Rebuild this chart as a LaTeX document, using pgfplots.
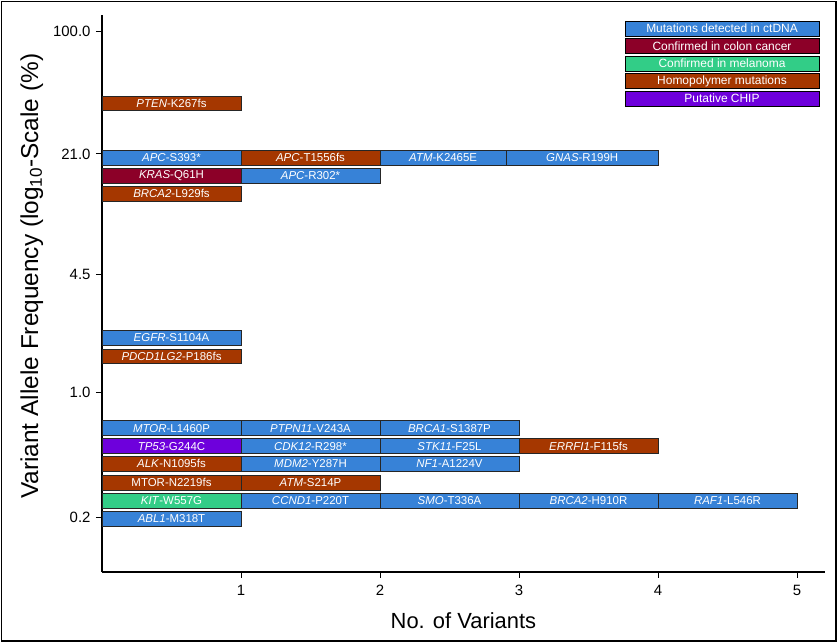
\documentclass[border=0pt]{standalone}
\usepackage{fontspec}
\setmainfont{Liberation Sans}
\usepackage{pgfplots}
\pgfplotsset{compat=1.18}
\definecolor{cblue}{RGB}{55,130,215}
\definecolor{cred}{RGB}{140,0,40}
\definecolor{cgreen}{RGB}{50,205,135}
\definecolor{corange}{RGB}{165,55,0}
\definecolor{cpurple}{RGB}{110,0,220}
\newcommand{\boxfont}{\fontsize{11.5}{13}\selectfont}
% \seg{colour}{x from}{x to}{VAF (%)}{label}
\newcommand{\seg}[5]{%
  \pgfmathsetmacro\lo{#4*0.911}%
  \pgfmathsetmacro\hi{#4*1.098}%
  \pgfmathsetmacro\xm{(#2+#3)/2}%
  \edef\tmp{\noexpand\addplot[fill=#1,draw=black!85,line width=0.7pt] coordinates {(#2,\lo) (#3,\lo) (#3,\hi) (#2,\hi)} --cycle;
   \noexpand\node[text=white,font=\noexpand\boxfont,inner sep=0pt] at (axis cs:\xm,#4) {\unexpanded{#5}};}%
  \tmp}
\begin{document}
\begin{tikzpicture}
\path[use as bounding box] (0,0) rectangle (839bp,644bp);
\begin{axis}[
  at={(102bp,72bp)}, anchor=south west, scale only axis,
  width=722.8bp, height=557bp,
  xmin=0, xmax=5.2, ymode=log, ymin=0.1, ymax=124,
  axis lines*=left, axis line style={line width=1.8bp},
  xtick={1,2,3,4,5}, ytick={0.2,1,4.5,21,100},
  yticklabels={0.2,1.0,4.5,21.0,100.0},
  yminorticks=false, xminorticks=false,
  tick align=outside, major tick length=6bp,
  tick style={line width=0.8bp, black},
  /pgf/number format/assume math mode=true,
  xticklabel style={font=\fontsize{15}{18}\selectfont, yshift=-4bp},
  yticklabel style={font=\fontsize{15}{18}\selectfont, xshift=-2bp},
  xlabel={No. of Variants},
  xlabel style={font=\fontsize{22}{26}\selectfont, at={(axis description cs:0.5,-0.088)}, anchor=center},
  ylabel={Variant Allele Frequency (log\textsubscript{10}-Scale (\%)},
  ylabel style={font=\fontsize{24.5}{28}\selectfont, at={(axis description cs:-0.097,0.531)}, anchor=center},
  clip=false,
]
% row at 40 %
\seg{corange}{0}{1}{40}{\textit{PTEN}-K267fs}
% row at 20 %
\seg{cblue}{0}{1}{20}{\textit{APC}-S393*}
\seg{corange}{1}{2}{20}{\textit{APC}-T1556fs}
\seg{cblue}{2}{2.909}{20}{\textit{ATM}-K2465E}
\seg{cblue}{2.909}{4}{20}{\textit{GNAS}-R199H}
% row at 15.9 %
\seg{cred}{0}{1}{15.9}{\textit{KRAS}-Q61H}
\seg{cblue}{1}{2}{15.9}{\textit{APC}-R302*}
% row at 12.6 %
\seg{corange}{0}{1}{12.6}{\textit{BRCA2}-L929fs}
% row at 2.0 %
\seg{cblue}{0}{1}{2.0}{\textit{EGFR}-S1104A}
% row at 1.58 %
\seg{corange}{0}{1}{1.58}{\textit{PDCD1LG2}-P186fs}
% row at 0.63 %
\seg{cblue}{0}{1}{0.63}{\textit{MTOR}-L1460P}
\seg{cblue}{1}{2}{0.63}{\textit{PTPN11}-V243A}
\seg{cblue}{2}{3}{0.63}{\textit{BRCA1}-S1387P}
% row at 0.50 %
\seg{cpurple}{0}{1}{0.50}{\textit{TP53}-G244C}
\seg{cblue}{1}{2}{0.50}{\textit{CDK12}-R298*}
\seg{cblue}{2}{3}{0.50}{\textit{STK11}-F25L}
\seg{corange}{3}{4}{0.50}{\textit{ERRFI1}-F115fs}
% row at 0.40 %
\seg{corange}{0}{1}{0.40}{\textit{ALK}-N1095fs}
\seg{cblue}{1}{2}{0.40}{\textit{MDM2}-Y287H}
\seg{cblue}{2}{3}{0.40}{\textit{NF1}-A1224V}
% row at 0.313 %
\seg{corange}{0}{1}{0.313}{MTOR-N2219fs}
\seg{corange}{1}{2}{0.313}{\textit{ATM}-S214P}
% row at 0.249 %
\seg{cgreen}{0}{1}{0.249}{\textit{KIT}-W557G}
\seg{cblue}{1}{2}{0.249}{\textit{CCND1}-P220T}
\seg{cblue}{2}{3}{0.249}{\textit{SMO}-T336A}
\seg{cblue}{3}{4}{0.249}{\textit{BRCA2}-H910R}
\seg{cblue}{4}{5}{0.249}{\textit{RAF1}-L546R}
% row at 0.198 %
\seg{cblue}{0}{1}{0.198}{\textit{ABL1}-M318T}
\end{axis}
\tikzset{lg/.style={draw=black, line width=0.8bp, minimum width=194bp, minimum height=15bp, inner sep=0pt, text=white, font=\fontsize{12}{14}\selectfont}}
\node[lg, fill=cblue] at (722bp,615.5bp) {Mutations detected in ctDNA};
\node[lg, fill=cred] at (722bp,598bp) {Confirmed in colon cancer};
\node[lg, fill=cgreen] at (722bp,580.5bp) {Confirmed in melanoma};
\node[lg, fill=corange] at (722bp,563bp) {Homopolymer mutations};
\node[lg, fill=cpurple] at (722bp,545.5bp) {Putative CHIP};
\draw[line width=1.2bp] (1.5bp,3bp) rectangle (836bp,642.5bp);
\end{tikzpicture}
\end{document}
